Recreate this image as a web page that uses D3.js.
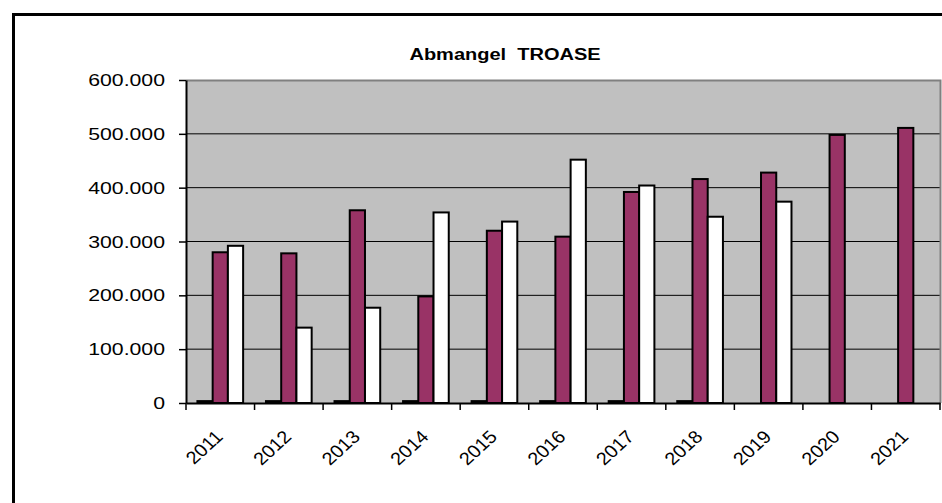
<!DOCTYPE html>
<html>
<head>
<meta charset="utf-8">
<script src="https://cdn.jsdelivr.net/npm/d3@7"></script>
<style>
  body { margin: 0; background: #fff; }
  svg { display: block; }
  text { font-family: Arial, "Liberation Sans", sans-serif; fill: #000; }
</style>
</head>
<body>
<svg id="chart" width="942" height="503"></svg>
<script>
var years = ["2011", "2012", "2013", "2014", "2015", "2016", "2017", "2018", "2019", "2020", "2021"];
var seriesNames = ["s1", "s2", "s3"];
var s1Values = [3500, 3500, 3500, 3500, 3500, 3500, 3500, 3500, null, null, null];
var s2Values = [280000, 278000, 358000, 198000, 320000, 309000, 392000, 416000, 428000, 498000, 511000];
var s3Values = [292000, 140000, 177000, 354000, 337000, 452000, 404000, 346000, 374000, null, null];
var yTicks = [0, 100000, 200000, 300000, 400000, 500000, 600000];
var titleText = "Abmangel  TROASE";

var colors = { s1: "#9999FF", s2: "#993366", s3: "#FFFFFF" };
var stretch = 1.25; // the picture is wider than it is tall

var plot = { left: 186, right: 940, top: 80, bottom: 403 };

var de = d3.formatLocale({ decimal: ",", thousands: ".", grouping: [3], currency: ["", "€"] });
var fmt = de.format(",.0f");

var svg = d3.select("#chart");

// frame around the chart
svg.append("rect")
  .attr("x", 13.5).attr("y", 14.5)
  .attr("width", 1000).attr("height", 600)
  .attr("fill", "none")
  .attr("stroke", "#000")
  .attr("stroke-width", 3);

var x = d3.scaleBand().domain(years).range([plot.left, plot.right]).paddingInner(0).paddingOuter(0);
var xs = d3.scaleBand().domain(seriesNames).range([0, x.bandwidth()]).paddingInner(0).paddingOuter(0.75);
var y = d3.scaleLinear().domain([0, 600000]).range([plot.bottom, plot.top]);

// plot area
svg.append("rect")
  .attr("x", plot.left).attr("y", plot.top)
  .attr("width", plot.right - plot.left).attr("height", plot.bottom - plot.top)
  .attr("fill", "#C0C0C0");

// gridlines
svg.append("g").selectAll("line")
  .data(yTicks.filter(function(d) { return d > 0 && d < 600000; }))
  .enter().append("line")
    .attr("x1", plot.left).attr("x2", plot.right)
    .attr("y1", function(d) { return y(d); })
    .attr("y2", function(d) { return y(d); })
    .attr("stroke", "#000")
    .attr("stroke-width", 1);

// gray border top and right
svg.append("path")
  .attr("d", "M" + plot.left + "," + (plot.top + 0.5) + "H" + (plot.right + 0.5) + "V" + plot.bottom)
  .attr("fill", "none")
  .attr("stroke", "#808080")
  .attr("stroke-width", 2);

var table = years.map(function(yr, i) {
  return { year: yr, s1: s1Values[i], s2: s2Values[i], s3: s3Values[i] };
});

var groups = svg.append("g").selectAll("g")
  .data(table)
  .enter().append("g")
    .attr("transform", function(d) { return "translate(" + x(d.year) + ",0)"; });

groups.selectAll("rect")
  .data(function(d) {
    return seriesNames.map(function(k) { return { key: k, value: d[k] }; })
      .filter(function(v) { return v.value != null; });
  })
  .enter().append("rect")
    .attr("x", function(d) { return xs(d.key); })
    .attr("width", xs.bandwidth())
    .attr("y", function(d) { return y(d.value); })
    .attr("height", function(d) { return y(0) - y(d.value); })
    .attr("fill", function(d) { return colors[d.key]; })
    .attr("stroke", "#000")
    .attr("stroke-width", 2);

// y axis
var yAxis = svg.append("g")
  .attr("transform", "translate(" + plot.left + ",0)")
  .call(d3.axisLeft(y).tickValues(yTicks).tickSize(7).tickSizeOuter(0).tickFormat(fmt));
yAxis.select(".domain").attr("stroke", "#000").attr("stroke-width", 2);
yAxis.selectAll(".tick line").attr("stroke", "#000").attr("stroke-width", 1.5);
yAxis.selectAll(".tick text").remove();

svg.append("g").selectAll("text")
  .data(yTicks)
  .enter().append("text")
    .attr("transform", function(d) { return "translate(165," + y(d) + ") scale(" + stretch + ",1)"; })
    .attr("text-anchor", "end")
    .attr("dy", "0.36em")
    .style("font-size", "17px")
    .text(function(d) { return fmt(d); });

// x axis
var xAxis = svg.append("g")
  .attr("transform", "translate(0," + plot.bottom + ")")
  .call(d3.axisBottom(x).tickSize(0).tickSizeOuter(0));
xAxis.select(".domain").attr("stroke", "#000").attr("stroke-width", 2);
xAxis.selectAll(".tick text").remove();

svg.append("g").selectAll("line")
  .data(years.concat(["end"]))
  .enter().append("line")
    .attr("x1", function(d) { return d === "end" ? plot.right : x(d); })
    .attr("x2", function(d) { return d === "end" ? plot.right : x(d); })
    .attr("y1", plot.bottom)
    .attr("y2", plot.bottom + 7)
    .attr("stroke", "#000")
    .attr("stroke-width", 1.5);

svg.append("g").selectAll("text")
  .data(years)
  .enter().append("text")
    .attr("transform", function(d) {
      return "translate(" + (x(d) + x.bandwidth() / 2 - 6) + "," + (plot.bottom + 26) + ") scale(1.1,1) rotate(-45)";
    })
    .attr("text-anchor", "end")
    .attr("dy", "0.7em")
    .style("font-size", "18px")
    .text(function(d) { return d; });

// title
svg.append("text")
  .attr("transform", "translate(505,60) scale(" + stretch + ",1)")
  .attr("text-anchor", "middle")
  .style("font-size", "16px")
  .style("font-weight", "bold")
  .style("white-space", "pre")
  .text(titleText);
</script>
</body>
</html>
